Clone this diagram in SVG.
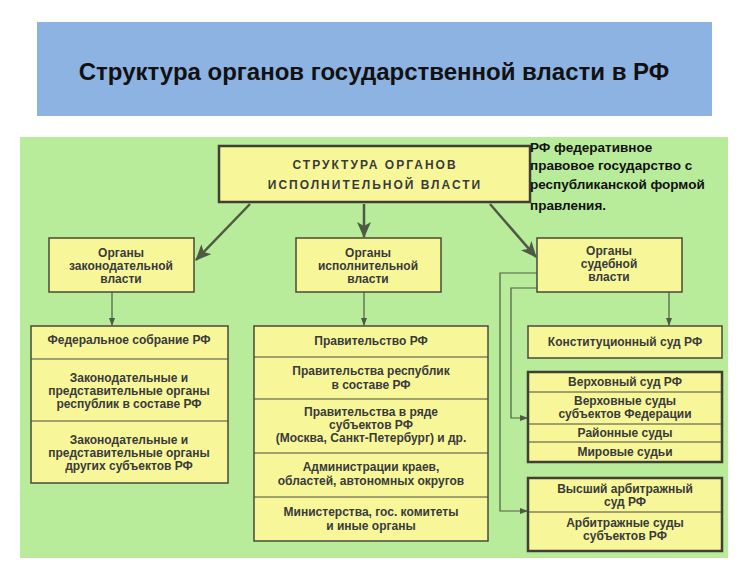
<svg xmlns="http://www.w3.org/2000/svg" width="750" height="562" viewBox="0 0 750 562">
<style>
.b{fill:#f7f79a;stroke:#4a4a3a;stroke-width:1.5}
.bb{fill:#f7f79a;stroke:#3f3f35;stroke-width:2.5}
.s{stroke:#4a4a3a;stroke-width:1}
.t{font-family:"Liberation Sans",Arial,sans-serif;font-weight:bold;font-size:12px;fill:#3a3a3a;text-anchor:middle}
.h{font-family:"Liberation Sans",Arial,sans-serif;font-weight:bold;font-size:12px;fill:#3a3a3a;text-anchor:middle}
.c{fill:none;stroke:#4f5a45;stroke-width:1.2}
.C{fill:none;stroke:#4f5a45;stroke-width:2.5}
</style>
<defs>
<marker id="a" markerWidth="8" markerHeight="8" refX="7" refY="4" orient="auto" markerUnits="userSpaceOnUse"><path d="M0,1 L8,4 L0,7z" fill="#4f5a45"/></marker>
<marker id="A" markerWidth="16" markerHeight="14" refX="15" refY="7" orient="auto" markerUnits="userSpaceOnUse"><path d="M0,0 L16,7 L0,14 L4,7z" fill="#4f5a45"/></marker>
</defs>
<rect width="750" height="562" fill="#fff"/>
<rect x="37" y="22" width="675" height="94" fill="#8db3e2"/>
<text x="374" y="80" font-family="Liberation Sans,Arial,sans-serif" font-weight="bold" font-size="24" text-anchor="middle" fill="#111">Структура органов государственной власти в РФ</text>
<rect x="20" y="137" width="708" height="421" fill="#b8ec9a"/>
<g id="connectors">
<path class="C" d="M250,204 L196,260" marker-end="url(#A)"/>
<path class="C" d="M364,204 L364,237" marker-end="url(#A)"/>
<path class="C" d="M490,204 L536,257" marker-end="url(#A)"/>
<path class="c" d="M112,292 V325" marker-end="url(#a)"/>
<path class="c" d="M364,292 V325" marker-end="url(#a)"/>
<path class="c" d="M669,292 V325" marker-end="url(#a)"/>
<path class="c" d="M537,273 H500 V511 H527" marker-end="url(#a)"/>
<path class="c" d="M537,288 H511 V418 H527" marker-end="url(#a)"/>
</g>
<g id="top"><rect class="bb" x="219" y="146" width="311" height="56"/>
<text class="h" x="375" y="169" font-size="17" letter-spacing="2">СТРУКТУРА ОРГАНОВ</text>
<text class="h" x="375" y="189" font-size="17" letter-spacing="2">ИСПОЛНИТЕЛЬНОЙ ВЛАСТИ</text></g>
<g id="note" font-family="Liberation Sans,Arial,sans-serif" font-weight="bold" font-size="13.5" fill="#111">
<text x="530" y="152">РФ федеративное</text>
<text x="530" y="170">правовое государство с</text>
<text x="530" y="189">республиканской формой</text>
<text x="530" y="210">правления.</text></g>
<g id="leg"><rect class="b" x="49" y="238" width="145" height="54"/>
<text class="h" x="121" y="257">Органы</text><text class="h" x="121" y="270">законодательной</text><text class="h" x="121" y="283">власти</text></g>
<g id="exe"><rect class="b" x="296" y="238" width="145" height="54"/>
<text class="h" x="368" y="257">Органы</text><text class="h" x="368" y="270">исполнительной</text><text class="h" x="368" y="283">власти</text></g>
<g id="jud"><rect class="b" x="537" y="238" width="145" height="54"/>
<text class="h" x="609" y="255">Органы</text><text class="h" x="609" y="268">судебной</text><text class="h" x="609" y="281">власти</text></g>
<g id="legcol"><rect class="b" x="31" y="326" width="197" height="157"/>
<path class="s" d="M31,359 H228 M31,421 H228"/>
<text class="t" x="129" y="344">Федеральное собрание РФ</text>
<text class="t" x="129" y="382">Законодательные и</text><text class="t" x="129" y="395">представительные органы</text><text class="t" x="129" y="408">республик в составе РФ</text>
<text class="t" x="129" y="444">Законодательные и</text><text class="t" x="129" y="457">представительные органы</text><text class="t" x="129" y="470">других субъектов РФ</text></g>
<g id="execol"><rect class="b" x="254" y="326" width="234" height="215"/>
<path class="s" d="M254,357 H488 M254,399 H488 M254,453 H488 M254,497 H488"/>
<text class="t" x="371" y="345">Правительство РФ</text>
<text class="t" x="371" y="375">Правительства республик</text><text class="t" x="371" y="389">в составе РФ</text>
<text class="t" x="371" y="416">Правительства в ряде</text><text class="t" x="371" y="429">субъектов РФ</text><text class="t" x="371" y="442">(Москва, Санкт-Петербург) и др.</text>
<text class="t" x="371" y="471">Администрации краев,</text><text class="t" x="371" y="485">областей, автономных округов</text>
<text class="t" x="371" y="516">Министерства, гос. комитеты</text><text class="t" x="371" y="530">и иные органы</text></g>
<g id="konst"><rect class="b" x="528" y="326" width="194" height="32"/>
<text class="t" x="625" y="346">Конституционный суд РФ</text></g>
<g id="gen"><rect class="bb" x="528" y="372" width="194" height="90"/>
<path class="s" d="M528,392 H722 M528,424 H722 M528,442 H722"/>
<text class="t" x="625" y="386">Верховный суд РФ</text>
<text class="t" x="625" y="405">Верховные суды</text><text class="t" x="625" y="418">субъектов Федерации</text>
<text class="t" x="625" y="437">Районные суды</text>
<text class="t" x="625" y="456">Мировые судьи</text></g>
<g id="arb"><rect class="bb" x="528" y="478" width="194" height="73"/>
<path class="s" d="M528,512 H722"/>
<text class="t" x="625" y="493">Высший арбитражный</text><text class="t" x="625" y="506">суд РФ</text>
<text class="t" x="625" y="527">Арбитражные суды</text><text class="t" x="625" y="540">субъектов РФ</text></g>
</svg>
